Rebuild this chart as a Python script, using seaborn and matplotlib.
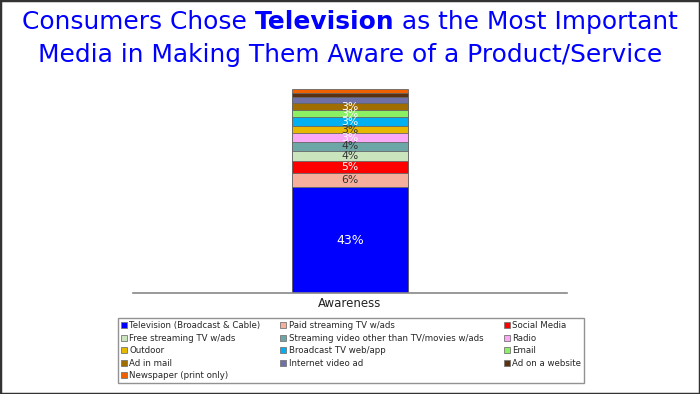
import matplotlib.pyplot as plt
import seaborn as sns
import numpy as np
from matplotlib.patches import Patch, Rectangle

# data, bottom segment first
category = "Awareness"
media = [
    "Television (Broadcast & Cable)",
    "Paid streaming TV w/ads",
    "Social Media",
    "Free streaming TV w/ads",
    "Streaming video other than TV/movies w/ads",
    "Radio",
    "Outdoor",
    "Broadcast TV web/app",
    "Email",
    "Ad in mail",
    "Internet video ad",
    "Ad on a website",
    "Newspaper (print only)",
]
shares = [43.0, 5.7, 5.1, 4.0, 3.7, 3.4, 3.1, 3.4, 3.0, 2.8, 2.3, 2.0, 1.4]

colors = ["#0000FF", "#F6AE9D", "#FF0000", "#CAE4BD", "#6CA6A6", "#F9A9F6",
          "#E6B800", "#00B0F0", "#8CF064", "#A06E00", "#7070A8", "#5A3212", "#F06000"]
label_colors = ["white", "#333333", "white", "#333333", "#333333", "white",
                "#333333", "white", "white", "white", "white", "white", "white"]

sns.set_theme(style="white")
plt.rcParams["font.family"] = ["DejaVu Sans"]

fig = plt.figure(figsize=(7, 3.94), dpi=100)
ax = fig.add_axes([133 / 700, (394 - 293) / 394, 434 / 700, 246 / 394])

tops = np.cumsum(shares)
bottoms = tops - np.array(shares)

# stacked look: draw cumulative bars from the top segment down
for i in range(len(shares) - 1, -1, -1):
    sns.barplot(x=[category], y=[tops[i]], color=colors[i], saturation=1,
                width=0.265, edgecolor="#666666", linewidth=0.6, ax=ax)

for i, v in enumerate(shares):
    if v >= 2.5:
        ax.text(0, bottoms[i] + v / 2, f"{round(v)}%", ha="center", va="center",
                fontsize=7.8 if i else 9, color=label_colors[i])

ax.set_xlim(-0.5, 0.5)
ax.set_ylim(0, 100)
ax.set_yticks([])
ax.set_ylabel("")
ax.set_xlabel("")
for s in ["top", "left", "right"]:
    ax.spines[s].set_visible(False)
ax.spines["bottom"].set_color("#888888")
ax.spines["bottom"].set_linewidth(1.2)
ax.tick_params(axis="x", length=0, labelsize=8.5, colors="#222222", pad=3)

# legend in row order
handles = [Patch(facecolor=c, edgecolor="#777777", linewidth=0.6) for c in colors]
order = list(range(0, 13, 3)) + list(range(1, 13, 3)) + list(range(2, 13, 3))
leg = fig.legend([handles[i] for i in order], [media[i] for i in order],
                 ncol=3, mode="expand", loc="lower left",
                 bbox_to_anchor=(118 / 700, (394 - 383) / 394, 466 / 700, 64 / 394),
                 fontsize=6.2, frameon=True, fancybox=False, handlelength=0.7,
                 handleheight=0.7, handletextpad=0.3, labelspacing=0.42,
                 borderpad=0.3, borderaxespad=0)
leg.get_frame().set_edgecolor("#777777")
leg.get_frame().set_linewidth(1.0)

# title with bold word, sized to the reference line width
title_color = "#0000FF"
parts = [("Consumers Chose ", "normal"), ("Television", "bold"), (" as the Most Important", "normal")]
texts = [fig.text(0, 1 - 22 / 394, p, fontsize=20, fontweight=w, color=title_color,
                  va="center", ha="left") for p, w in parts]
fig.canvas.draw()
r = fig.canvas.get_renderer()
tsize = 20 * 656 / sum(t.get_window_extent(r).width for t in texts)
for t in texts:
    t.set_fontsize(tsize)
fig.canvas.draw()
widths = [t.get_window_extent(r).width for t in texts]
x = (700 - sum(widths)) / 2
for t, w in zip(texts, widths):
    t.set_x(x / 700)
    x += w
fig.text(0.5, 1 - 55 / 394, "Media in Making Them Aware of a Product/Service",
         fontsize=tsize, color=title_color, ha="center", va="center")

fig.patches.append(Rectangle((0, 0), 1, 1, transform=fig.transFigure, fill=False,
                             edgecolor="#333333", linewidth=2.5))

fig.savefig("out.png", dpi=100)
